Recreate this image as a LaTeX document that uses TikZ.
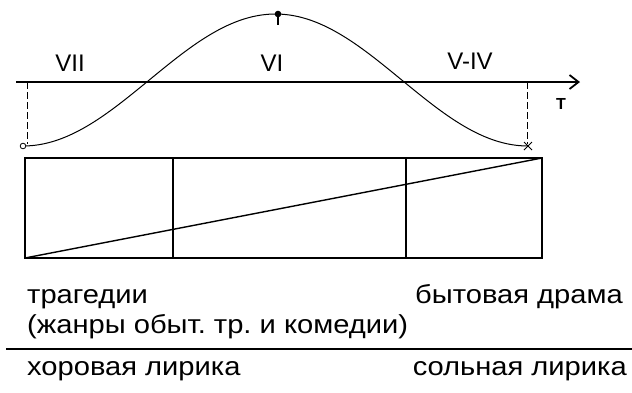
\documentclass[tikz,border=0pt]{standalone}
\usepackage{fontspec}
\setmainfont{Liberation Sans}
\newfontfamily\widefont[FakeStretch=1.12]{Liberation Sans}
\usetikzlibrary{arrows.meta}
\frenchspacing
\begin{document}
\begin{tikzpicture}[
    x=1pt,y=-1pt,
    lbl/.style={inner sep=0pt,font=\widefont\fontsize{26}{30}\selectfont},
    era/.style={inner sep=0pt,font=\fontsize{24}{28}\selectfont},
    frame/.style={line width=1.4pt},
    guide/.style={line width=1pt,dash pattern=on 7pt off 3pt},
    arr/.style={-{Straight Barb[length=9pt,width=14pt,line width=1.8pt]},line width=1.5pt}
]
\useasboundingbox (0,0) rectangle (632,392);
\coordinate (ax0) at (16,82);
\coordinate (ax1) at (580,82);
\coordinate (ll) at (25,258);
\coordinate (ur) at (542,158);
\coordinate (a) at (173,158);
\coordinate (b) at (406,158);
\coordinate (start) at (23,146);
\coordinate (stop) at (528,146);
\coordinate (peak) at (278,14);
\draw[arr] (ax0) -- (ax1);
\node[font=\bfseries\fontsize{16}{18}\selectfont,inner sep=0pt] (t) at (561,104) {T};
\node[era] (vii) at (70,63) {VII};
\node[era] (vi) at (272,63) {VI};
\node[era] (viv) at (470,61) {V-IV};
\draw[line width=1pt,domain=23:528,samples=120] plot (\x,{80-66*cos(0.71287*(\x-275.5))});
\draw[guide] (ax0 -| start) ++(4,0) -- ++(0,62);
\draw[guide] (ax0 -| stop) ++(-1,0) -- ++(0,62);
\draw[fill=white,line width=0.8pt] (start) circle (2.8pt);
\fill (peak) circle (3.3pt);
\draw[line width=1.2pt] (peak) -- ++(0,11);
\draw[line width=1pt] (stop) ++(-4,-4) -- ++(8,8) ++(0,-8) -- ++(-8,8);
\draw[frame] (ll) rectangle (ur);
\draw[frame] (a) -- (a |- ll);
\draw[frame] (b) -- (b |- ll);
\draw[frame] (ll) -- (ur);
\node[lbl,anchor=base west] (trag) at (27,303) {трагедии};
\node[lbl,anchor=base west] (zhanr) at (27,333) {(жанры обыт. тр. и комедии)};
\node[lbl,anchor=base east] (byt) at (623,303) {бытовая драма};
\coordinate (sep0) at (6,349);
\coordinate (sep1) at (632,349);
\draw[line width=1.8pt] (sep0) -- (sep1);
\node[lbl,anchor=base west] (hor) at (27,375) {хоровая лирика};
\node[lbl,anchor=base east] (sol) at (627,375) {сольная лирика};
\end{tikzpicture}
\end{document}
